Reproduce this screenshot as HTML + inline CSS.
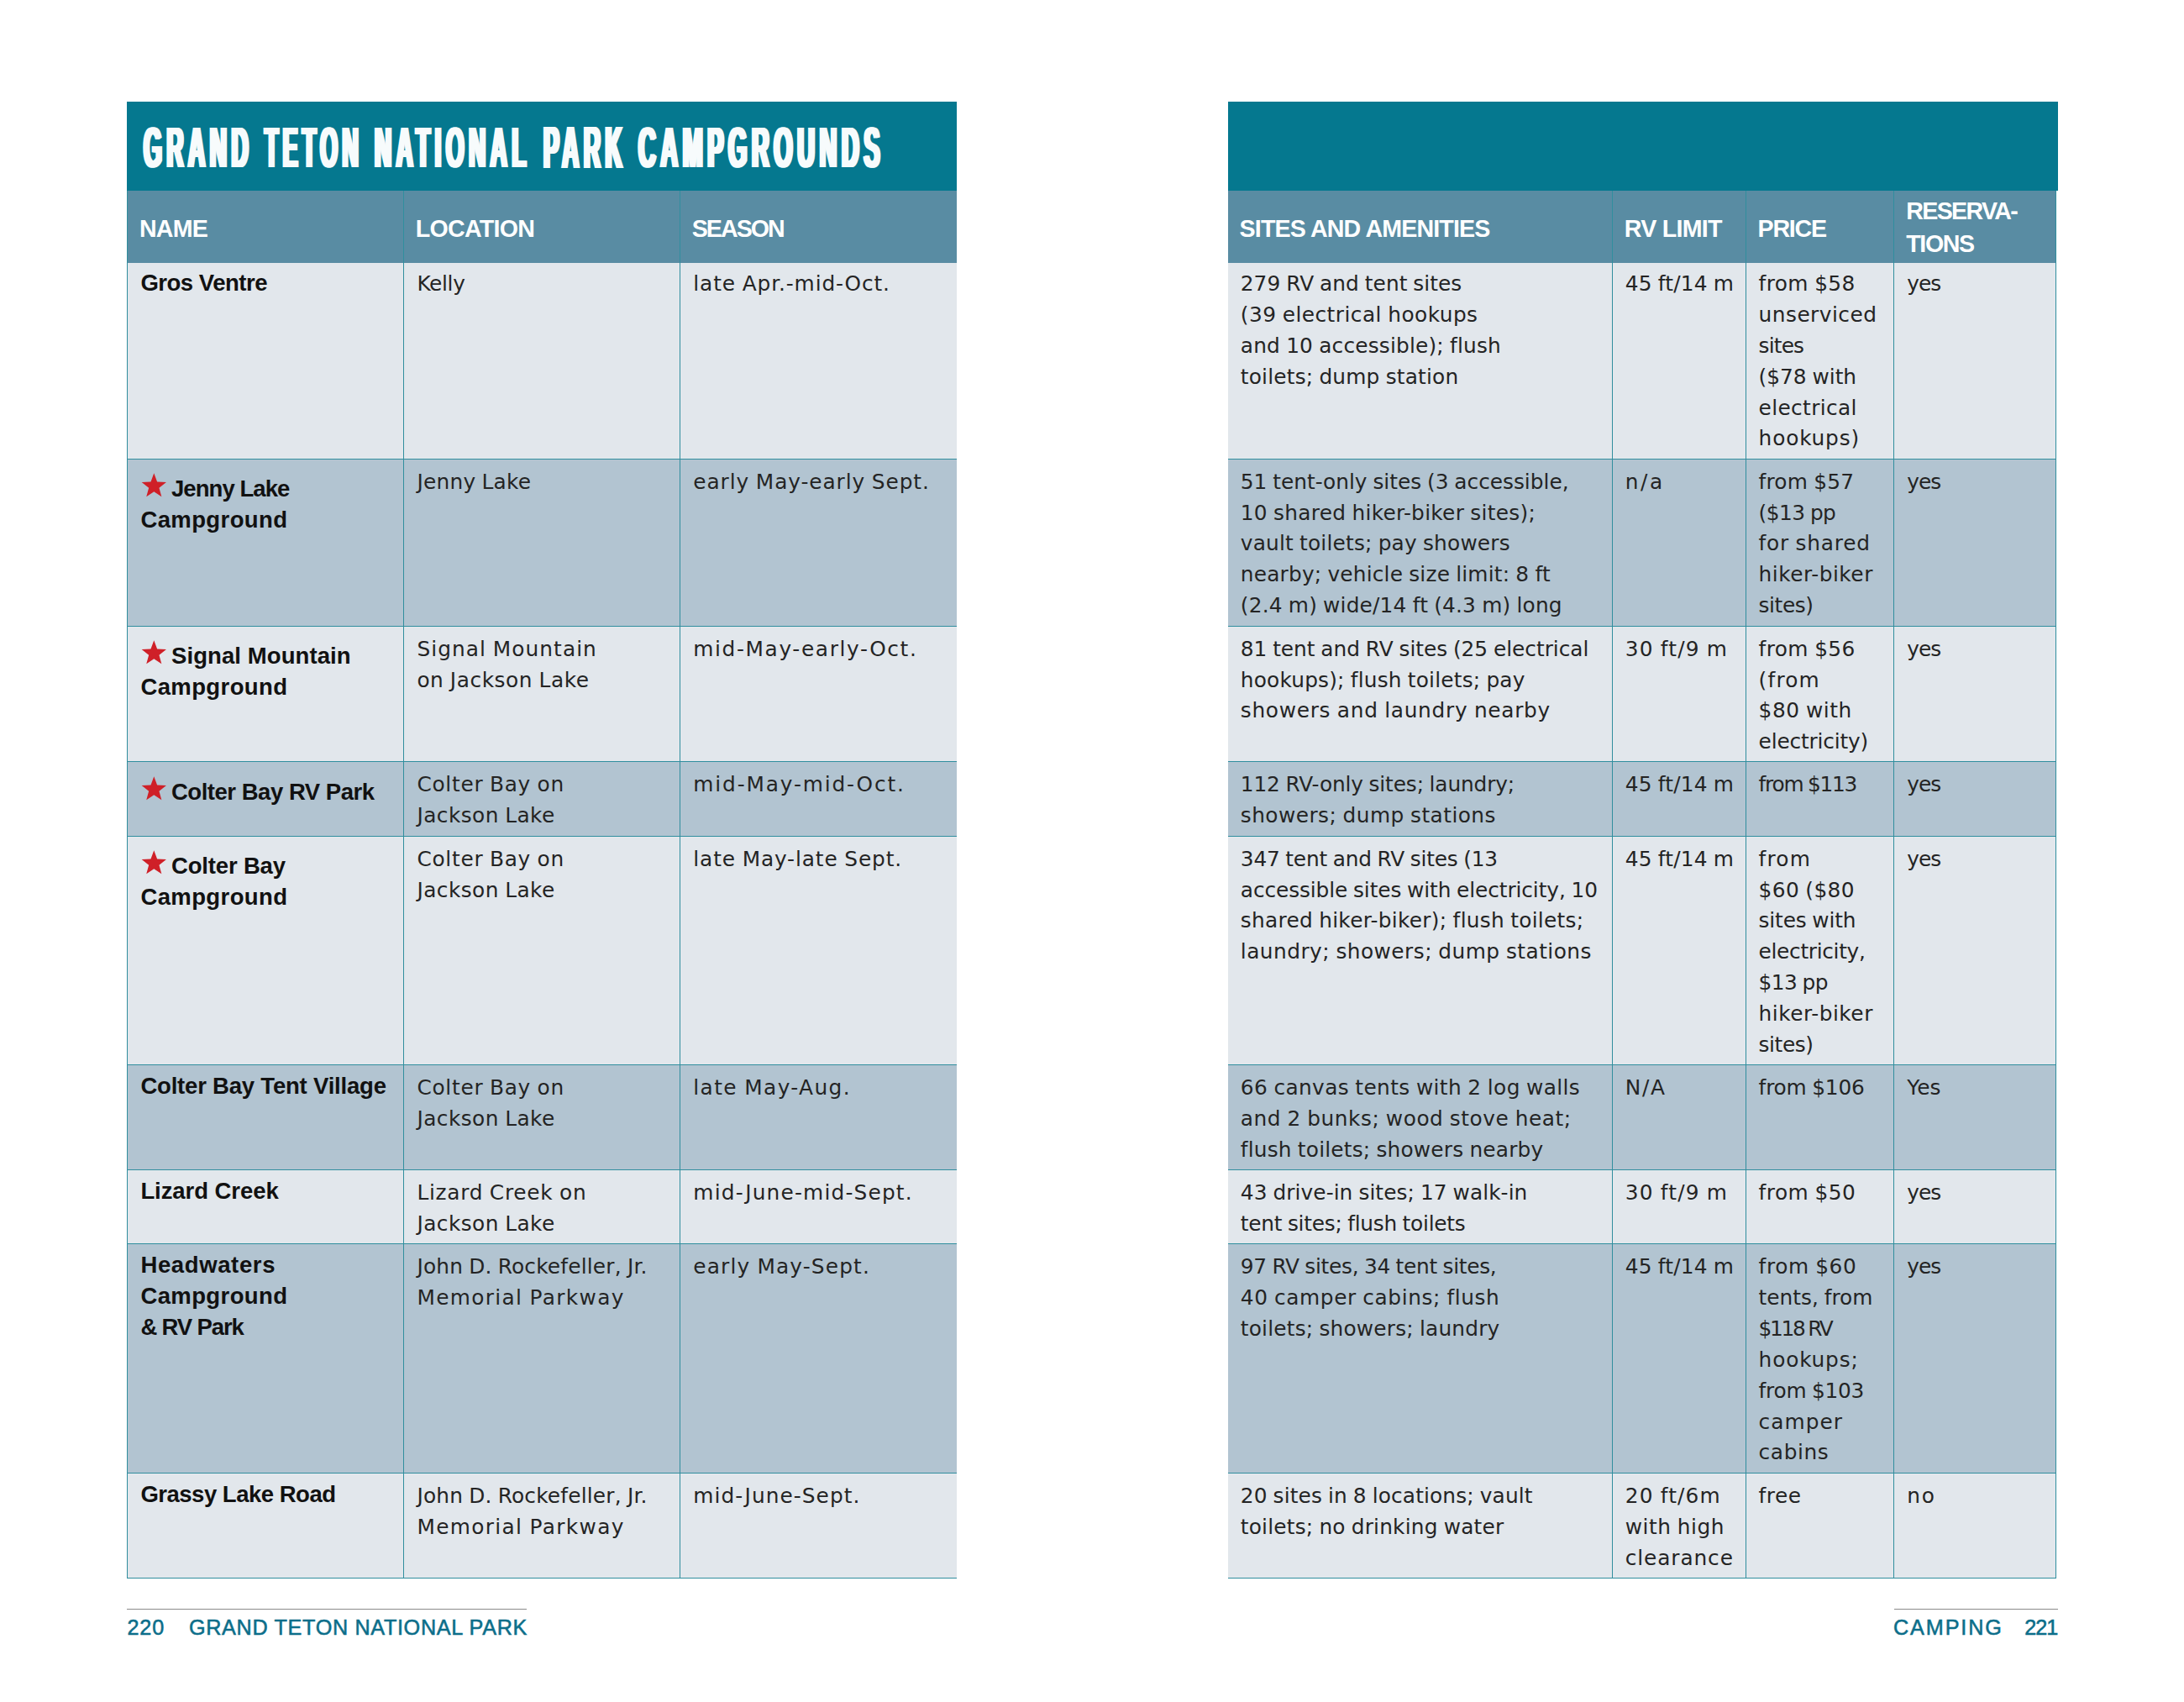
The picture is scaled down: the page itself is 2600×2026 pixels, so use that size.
<!DOCTYPE html>
<html lang="en"><head><meta charset="utf-8"><title>Grand Teton National Park Campgrounds</title>
<style>
html,body{margin:0;padding:0;background:#fff;}
body{width:2600px;height:2026px;position:relative;overflow:hidden;}
body>div,body>svg{position:absolute;}
.rg{font-family:"DejaVu Sans", "Liberation Sans", sans-serif;font-weight:400;font-size:24.8px;line-height:36.85px;letter-spacing:0.2px;word-spacing:-1.0px;color:#242424;white-space:nowrap;}
.nm{font-family:"Liberation Sans", sans-serif;font-weight:700;font-size:27.5px;line-height:36.85px;letter-spacing:0.0px;word-spacing:0px;color:#111;white-space:nowrap;}
.hd{font-family:"Liberation Sans", sans-serif;font-weight:700;font-size:28.6px;line-height:38.5px;letter-spacing:0.0px;word-spacing:0px;color:#fff;white-space:nowrap;}
.ft{font-family:"Liberation Sans", sans-serif;font-weight:400;font-size:25.2px;line-height:36.85px;letter-spacing:0.9px;word-spacing:0px;color:#0c6e8a;white-space:nowrap;}
.ft{-webkit-text-stroke:0.55px #0c6e8a;}
.tw{font-family:"Liberation Sans", sans-serif;font-weight:700;font-size:70.0px;letter-spacing:14.0px;line-height:100px;color:#f7fbfc;text-shadow:2.4px 0 0 #f7fbfc,-2.4px 0 0 #f7fbfc,4.8px 0 0 #f7fbfc,-4.8px 0 0 #f7fbfc;white-space:nowrap;transform-origin:0 0;}
</style></head>
<body>
<div style="left:151.00px;top:121.00px;width:987.80px;height:106.00px;background:#05788f;"></div>
<div style="left:151.00px;top:227.00px;width:987.80px;height:85.60px;background:#598ca3;"></div>
<div style="left:151.00px;top:312.60px;width:987.80px;height:233.70px;background:#e2e7ec;"></div>
<div style="left:151.00px;top:546.30px;width:987.80px;height:199.00px;background:#b2c4d1;"></div>
<div style="left:151.00px;top:745.30px;width:987.80px;height:161.20px;background:#e2e7ec;"></div>
<div style="left:151.00px;top:906.50px;width:987.80px;height:88.70px;background:#b2c4d1;"></div>
<div style="left:151.00px;top:995.20px;width:987.80px;height:272.60px;background:#e2e7ec;"></div>
<div style="left:151.00px;top:1267.80px;width:987.80px;height:124.90px;background:#b2c4d1;"></div>
<div style="left:151.00px;top:1392.70px;width:987.80px;height:88.20px;background:#e2e7ec;"></div>
<div style="left:151.00px;top:1480.90px;width:987.80px;height:273.00px;background:#b2c4d1;"></div>
<div style="left:151.00px;top:1753.90px;width:987.80px;height:124.40px;background:#e2e7ec;"></div>
<div style="left:151.00px;top:546.00px;width:987.80px;height:1.25px;background:#308e9e;"></div>
<div style="left:151.00px;top:745.00px;width:987.80px;height:1.25px;background:#308e9e;"></div>
<div style="left:151.00px;top:906.00px;width:987.80px;height:1.25px;background:#308e9e;"></div>
<div style="left:151.00px;top:995.00px;width:987.80px;height:1.25px;background:#308e9e;"></div>
<div style="left:151.00px;top:1267.00px;width:987.80px;height:1.25px;background:#308e9e;"></div>
<div style="left:151.00px;top:1392.00px;width:987.80px;height:1.25px;background:#308e9e;"></div>
<div style="left:151.00px;top:1480.00px;width:987.80px;height:1.25px;background:#308e9e;"></div>
<div style="left:151.00px;top:1753.00px;width:987.80px;height:1.25px;background:#308e9e;"></div>
<div style="left:151.00px;top:1878.00px;width:987.80px;height:1.25px;background:#308e9e;"></div>
<div style="left:151.00px;top:227.00px;width:1.25px;height:1652.25px;background:#308e9e;"></div>
<div style="left:480.00px;top:227.00px;width:1.25px;height:1652.25px;background:#308e9e;"></div>
<div style="left:809.00px;top:227.00px;width:1.25px;height:1652.25px;background:#308e9e;"></div>
<div style="left:1462.20px;top:121.00px;width:987.40px;height:106.00px;background:#05788f;"></div>
<div style="left:1462.20px;top:227.00px;width:986.20px;height:85.60px;background:#598ca3;"></div>
<div style="left:1462.20px;top:312.60px;width:986.20px;height:233.70px;background:#e2e7ec;"></div>
<div style="left:1462.20px;top:546.30px;width:986.20px;height:199.00px;background:#b2c4d1;"></div>
<div style="left:1462.20px;top:745.30px;width:986.20px;height:161.20px;background:#e2e7ec;"></div>
<div style="left:1462.20px;top:906.50px;width:986.20px;height:88.70px;background:#b2c4d1;"></div>
<div style="left:1462.20px;top:995.20px;width:986.20px;height:272.60px;background:#e2e7ec;"></div>
<div style="left:1462.20px;top:1267.80px;width:986.20px;height:124.90px;background:#b2c4d1;"></div>
<div style="left:1462.20px;top:1392.70px;width:986.20px;height:88.20px;background:#e2e7ec;"></div>
<div style="left:1462.20px;top:1480.90px;width:986.20px;height:273.00px;background:#b2c4d1;"></div>
<div style="left:1462.20px;top:1753.90px;width:986.20px;height:124.40px;background:#e2e7ec;"></div>
<div style="left:1462.20px;top:546.00px;width:986.20px;height:1.25px;background:#308e9e;"></div>
<div style="left:1462.20px;top:745.00px;width:986.20px;height:1.25px;background:#308e9e;"></div>
<div style="left:1462.20px;top:906.00px;width:986.20px;height:1.25px;background:#308e9e;"></div>
<div style="left:1462.20px;top:995.00px;width:986.20px;height:1.25px;background:#308e9e;"></div>
<div style="left:1462.20px;top:1267.00px;width:986.20px;height:1.25px;background:#308e9e;"></div>
<div style="left:1462.20px;top:1392.00px;width:986.20px;height:1.25px;background:#308e9e;"></div>
<div style="left:1462.20px;top:1480.00px;width:986.20px;height:1.25px;background:#308e9e;"></div>
<div style="left:1462.20px;top:1753.00px;width:986.20px;height:1.25px;background:#308e9e;"></div>
<div style="left:1462.20px;top:1878.00px;width:986.20px;height:1.25px;background:#308e9e;"></div>
<div style="left:1919.00px;top:227.00px;width:1.25px;height:1652.25px;background:#308e9e;"></div>
<div style="left:2078.00px;top:227.00px;width:1.25px;height:1652.25px;background:#308e9e;"></div>
<div style="left:2254.00px;top:227.00px;width:1.25px;height:1652.25px;background:#308e9e;"></div>
<div style="left:2447.00px;top:227.00px;width:1.25px;height:1652.25px;background:#308e9e;"></div>
<div class="hd" style="left:166.00px;top:252.84px;"><span style="letter-spacing:-0.83px">NAME</span></div>
<div class="hd" style="left:494.80px;top:252.84px;"><span style="letter-spacing:-0.71px">LOCATION</span></div>
<div class="hd" style="left:823.70px;top:252.84px;"><span style="letter-spacing:-1.94px">SEASON</span></div>
<div class="hd" style="left:1475.60px;top:252.84px;"><span style="letter-spacing:-0.85px">SITES AND AMENITIES</span></div>
<div class="hd" style="left:1933.80px;top:252.84px;"><span style="letter-spacing:-0.73px">RV LIMIT</span></div>
<div class="hd" style="left:2092.60px;top:252.84px;"><span style="letter-spacing:-1.23px">PRICE</span></div>
<div class="hd" style="left:2269.20px;top:232.34px;"><span style="letter-spacing:-1.64px">RESERVA-</span><br><span style="letter-spacing:-1.35px">TIONS</span></div>
<div class="tw" style="left:170.70px;top:126.75px;transform:scale(0.3987,0.9686)">GRAND</div>
<div class="tw" style="left:314.73px;top:126.75px;transform:scale(0.3824,0.9686)">TETON</div>
<div class="tw" style="left:445.70px;top:126.75px;transform:scale(0.3967,0.9686)">NATIONAL</div>
<div class="tw" style="left:646.60px;top:124.80px;transform:scale(0.3983,1.0082)">PARK</div>
<div class="tw" style="left:760.12px;top:126.75px;transform:scale(0.4083,0.9686)">CAMPGROUNDS</div>
<div class="nm" style="left:167.40px;top:318.75px;"><span style="letter-spacing:-0.47px">Gros Ventre</span></div>
<div class="rg" style="left:496.40px;top:320.19px;"><span style="letter-spacing:-0.33px">Kelly</span></div>
<div class="rg" style="left:825.30px;top:320.19px;"><span style="letter-spacing:0.89px">late Apr.-mid-Oct.</span></div>
<svg style="left:160px;top:556.30px" width="50" height="50" viewBox="160 556.30 50 50"><polygon fill="#cf2028" points="183.30,563.60 187.10,573.77 197.95,574.24 189.45,581.00 192.35,591.46 183.30,585.47 174.25,591.46 177.15,581.00 168.65,574.24 179.50,573.77"/></svg>
<div class="nm" style="left:167.4px;top:564.35px;"><span style="padding-left:36.6px"><span style="letter-spacing:-0.94px">Jenny Lake</span></span><br><span style="letter-spacing:0.39px">Campground</span></div>
<div class="rg" style="left:496.40px;top:555.79px;"><span style="letter-spacing:0.26px">Jenny Lake</span></div>
<div class="rg" style="left:825.30px;top:555.79px;"><span style="letter-spacing:0.91px">early May-early Sept.</span></div>
<svg style="left:160px;top:755.30px" width="50" height="50" viewBox="160 755.30 50 50"><polygon fill="#cf2028" points="183.30,762.60 187.10,772.77 197.95,773.24 189.45,780.00 192.35,790.46 183.30,784.47 174.25,790.46 177.15,780.00 168.65,773.24 179.50,772.77"/></svg>
<div class="nm" style="left:167.4px;top:763.35px;"><span style="padding-left:36.6px"><span style="letter-spacing:0.09px">Signal Mountain</span></span><br><span style="letter-spacing:0.39px">Campground</span></div>
<div class="rg" style="left:496.40px;top:754.79px;"><span style="letter-spacing:1.06px">Signal Mountain</span><br><span style="letter-spacing:0.56px">on Jackson Lake</span></div>
<div class="rg" style="left:825.30px;top:754.79px;"><span style="letter-spacing:1.64px">mid-May-early-Oct.</span></div>
<svg style="left:160px;top:916.50px" width="50" height="50" viewBox="160 916.50 50 50"><polygon fill="#cf2028" points="183.30,923.80 187.10,933.97 197.95,934.44 189.45,941.20 192.35,951.66 183.30,945.67 174.25,951.66 177.15,941.20 168.65,934.44 179.50,933.97"/></svg>
<div class="nm" style="left:167.4px;top:924.55px;"><span style="padding-left:36.6px"><span style="letter-spacing:-0.48px">Colter Bay RV Park</span></span></div>
<div class="rg" style="left:496.40px;top:915.99px;"><span style="letter-spacing:0.73px">Colter Bay on</span><br><span style="letter-spacing:0.45px">Jackson Lake</span></div>
<div class="rg" style="left:825.30px;top:915.99px;"><span style="letter-spacing:1.86px">mid-May-mid-Oct.</span></div>
<svg style="left:160px;top:1005.20px" width="50" height="50" viewBox="160 1005.20 50 50"><polygon fill="#cf2028" points="183.30,1012.50 187.10,1022.67 197.95,1023.14 189.45,1029.90 192.35,1040.36 183.30,1034.37 174.25,1040.36 177.15,1029.90 168.65,1023.14 179.50,1022.67"/></svg>
<div class="nm" style="left:167.4px;top:1013.25px;"><span style="padding-left:36.6px"><span style="letter-spacing:-0.17px">Colter Bay</span></span><br><span style="letter-spacing:0.39px">Campground</span></div>
<div class="rg" style="left:496.40px;top:1004.69px;"><span style="letter-spacing:0.73px">Colter Bay on</span><br><span style="letter-spacing:0.45px">Jackson Lake</span></div>
<div class="rg" style="left:825.30px;top:1004.69px;"><span style="letter-spacing:0.88px">late May-late Sept.</span></div>
<div class="nm" style="left:167.40px;top:1275.25px;"><span style="letter-spacing:-0.20px">Colter Bay Tent Village</span></div>
<div class="rg" style="left:496.40px;top:1277.29px;"><span style="letter-spacing:0.73px">Colter Bay on</span><br><span style="letter-spacing:0.45px">Jackson Lake</span></div>
<div class="rg" style="left:825.30px;top:1277.29px;"><span style="letter-spacing:1.40px">late May-Aug.</span></div>
<div class="nm" style="left:167.40px;top:1400.15px;"><span style="letter-spacing:-0.07px">Lizard Creek</span></div>
<div class="rg" style="left:496.40px;top:1402.19px;"><span style="letter-spacing:0.74px">Lizard Creek on</span><br><span style="letter-spacing:0.45px">Jackson Lake</span></div>
<div class="rg" style="left:825.30px;top:1402.19px;"><span style="letter-spacing:1.19px">mid-June-mid-Sept.</span></div>
<div class="nm" style="left:167.40px;top:1488.35px;"><span style="letter-spacing:0.63px">Headwaters</span><br><span style="letter-spacing:0.39px">Campground</span><br><span style="letter-spacing:-1.14px">&amp; RV Park</span></div>
<div class="rg" style="left:496.40px;top:1490.39px;">John D. Rockefeller, Jr.<br><span style="letter-spacing:1.35px">Memorial Parkway</span></div>
<div class="rg" style="left:825.30px;top:1490.39px;"><span style="letter-spacing:1.17px">early May-Sept.</span></div>
<div class="nm" style="left:167.40px;top:1761.35px;"><span style="letter-spacing:-0.49px">Grassy Lake Road</span></div>
<div class="rg" style="left:496.40px;top:1763.39px;">John D. Rockefeller, Jr.<br><span style="letter-spacing:1.35px">Memorial Parkway</span></div>
<div class="rg" style="left:825.30px;top:1763.39px;"><span style="letter-spacing:1.05px">mid-June-Sept.</span></div>
<div class="rg" style="left:1476.80px;top:320.19px;"><span style="letter-spacing:0.05px">279 RV and tent sites</span><br><span style="letter-spacing:0.46px">(39 electrical hookups</span><br>and 10 accessible); flush<br>toilets; dump station</div>
<div class="rg" style="left:1934.80px;top:320.19px;">45 ft/14 m</div>
<div class="rg" style="left:2093.60px;top:320.19px;"><span style="letter-spacing:0.40px">from $58</span><br><span style="letter-spacing:0.48px">unserviced</span><br><span style="letter-spacing:-0.83px">sites</span><br><span style="letter-spacing:0.00px">($78 with</span><br><span style="letter-spacing:0.36px">electrical</span><br><span style="letter-spacing:0.83px">hookups)</span></div>
<div class="rg" style="left:2270.20px;top:320.19px;"><span style="letter-spacing:-0.90px">yes</span></div>
<div class="rg" style="left:1476.80px;top:555.79px;"><span style="letter-spacing:-0.00px">51 tent-only sites (3 accessible,</span><br><span style="letter-spacing:0.29px">10 shared hiker-biker sites);</span><br>vault toilets; pay showers<br>nearby; vehicle size limit: 8 ft<br>(2.4 m) wide/14 ft (4.3 m) long</div>
<div class="rg" style="left:1934.80px;top:555.79px;"><span style="letter-spacing:2.60px">n/a</span></div>
<div class="rg" style="left:2093.60px;top:555.79px;">from $57<br><span style="letter-spacing:-0.52px">($13 pp</span><br><span style="letter-spacing:0.76px">for shared</span><br><span style="letter-spacing:0.53px">hiker-biker</span><br><span style="letter-spacing:-0.40px">sites)</span></div>
<div class="rg" style="left:2270.20px;top:555.79px;"><span style="letter-spacing:-0.90px">yes</span></div>
<div class="rg" style="left:1476.80px;top:754.79px;"><span style="letter-spacing:-0.02px">81 tent and RV sites (25 electrical</span><br>hookups); flush toilets; pay<br><span style="letter-spacing:0.71px">showers and laundry nearby</span></div>
<div class="rg" style="left:1934.80px;top:754.79px;"><span style="letter-spacing:1.19px">30 ft/9 m</span></div>
<div class="rg" style="left:2093.60px;top:754.79px;"><span style="letter-spacing:0.40px">from $56</span><br><span style="letter-spacing:1.20px">(from</span><br><span style="letter-spacing:0.53px">$80 with</span><br><span style="letter-spacing:-0.16px">electricity)</span></div>
<div class="rg" style="left:2270.20px;top:754.79px;"><span style="letter-spacing:-0.90px">yes</span></div>
<div class="rg" style="left:1476.80px;top:915.99px;"><span style="letter-spacing:-0.13px">112 RV-only sites; laundry;</span><br><span style="letter-spacing:0.45px">showers; dump stations</span></div>
<div class="rg" style="left:1934.80px;top:915.99px;">45 ft/14 m</div>
<div class="rg" style="left:2093.60px;top:915.99px;"><span style="letter-spacing:-1.25px">from $113</span></div>
<div class="rg" style="left:2270.20px;top:915.99px;"><span style="letter-spacing:-0.90px">yes</span></div>
<div class="rg" style="left:1476.80px;top:1004.69px;"><span style="letter-spacing:-0.18px">347 tent and RV sites (13</span><br><span style="letter-spacing:-0.09px">accessible sites with electricity, 10</span><br><span style="letter-spacing:0.29px">shared hiker-biker); flush toilets;</span><br><span style="letter-spacing:0.47px">laundry; showers; dump stations</span></div>
<div class="rg" style="left:1934.80px;top:1004.69px;">45 ft/14 m</div>
<div class="rg" style="left:2093.60px;top:1004.69px;"><span style="letter-spacing:1.17px">from</span><br><span style="letter-spacing:0.39px">$60 ($80</span><br><span style="letter-spacing:-0.14px">sites with</span><br><span style="letter-spacing:-0.31px">electricity,</span><br><span style="letter-spacing:-0.58px">$13 pp</span><br><span style="letter-spacing:0.53px">hiker-biker</span><br><span style="letter-spacing:-0.40px">sites)</span></div>
<div class="rg" style="left:2270.20px;top:1004.69px;"><span style="letter-spacing:-0.90px">yes</span></div>
<div class="rg" style="left:1476.80px;top:1277.29px;"><span style="letter-spacing:0.39px">66 canvas tents with 2 log walls</span><br><span style="letter-spacing:0.55px">and 2 bunks; wood stove heat;</span><br>flush toilets; showers nearby</div>
<div class="rg" style="left:1934.80px;top:1277.29px;"><span style="letter-spacing:1.60px">N/A</span></div>
<div class="rg" style="left:2093.60px;top:1277.29px;"><span style="letter-spacing:-0.19px">from $106</span></div>
<div class="rg" style="left:2270.20px;top:1277.29px;"><span style="letter-spacing:0.10px">Yes</span></div>
<div class="rg" style="left:1476.80px;top:1402.19px;"><span style="letter-spacing:0.08px">43 drive-in sites; 17 walk-in</span><br><span style="letter-spacing:-0.24px">tent sites; flush toilets</span></div>
<div class="rg" style="left:1934.80px;top:1402.19px;"><span style="letter-spacing:1.19px">30 ft/9 m</span></div>
<div class="rg" style="left:2093.60px;top:1402.19px;"><span style="letter-spacing:0.47px">from $50</span></div>
<div class="rg" style="left:2270.20px;top:1402.19px;"><span style="letter-spacing:-0.90px">yes</span></div>
<div class="rg" style="left:1476.80px;top:1490.39px;"><span style="letter-spacing:-0.27px">97 RV sites, 34 tent sites,</span><br><span style="letter-spacing:0.60px">40 camper cabins; flush</span><br>toilets; showers; laundry</div>
<div class="rg" style="left:1934.80px;top:1490.39px;">45 ft/14 m</div>
<div class="rg" style="left:2093.60px;top:1490.39px;"><span style="letter-spacing:0.61px">from $60</span><br><span style="letter-spacing:0.00px">tents, from</span><br><span style="letter-spacing:-2.27px">$118 RV</span><br><span style="letter-spacing:0.83px">hookups;</span><br><span style="letter-spacing:-0.25px">from $103</span><br><span style="letter-spacing:1.04px">camper</span><br><span style="letter-spacing:0.62px">cabins</span></div>
<div class="rg" style="left:2270.20px;top:1490.39px;"><span style="letter-spacing:-0.90px">yes</span></div>
<div class="rg" style="left:1476.80px;top:1763.39px;"><span style="letter-spacing:0.13px">20 sites in 8 locations; vault</span><br>toilets; no drinking water</div>
<div class="rg" style="left:1934.80px;top:1763.39px;"><span style="letter-spacing:1.17px">20 ft/6m</span><br><span style="letter-spacing:0.50px">with high</span><br><span style="letter-spacing:0.89px">clearance</span></div>
<div class="rg" style="left:2093.60px;top:1763.39px;"><span style="letter-spacing:0.50px">free</span></div>
<div class="rg" style="left:2270.20px;top:1763.39px;"><span style="letter-spacing:1.90px">no</span></div>
<div style="left:151.40px;top:1915.00px;width:475.60px;height:1.25px;background:#8a8a8a;"></div>
<div style="left:2254.60px;top:1915.00px;width:195.00px;height:1.25px;background:#8a8a8a;"></div>
<div class="ft" style="left:151.40px;top:1918.54px;">220</div>
<div class="ft" style="left:225.00px;top:1918.54px;"><span style="letter-spacing:0.67px">GRAND TETON NATIONAL PARK</span></div>
<div class="ft" style="left:2254.00px;top:1918.54px;"><span style="letter-spacing:1.90px">CAMPING</span></div>
<div class="ft" style="left:2410.20px;top:1918.54px;"><span style="letter-spacing:-1.00px">221</span></div>
</body></html>
